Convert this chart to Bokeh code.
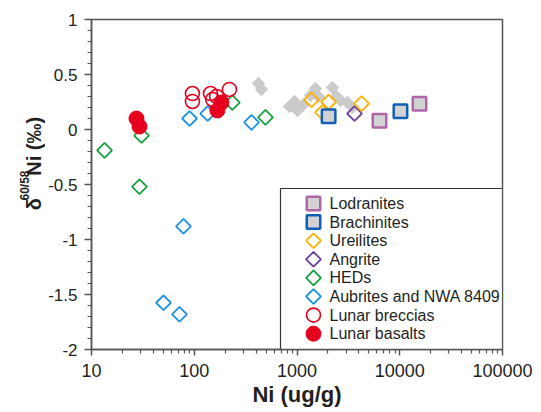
import math
from bokeh.plotting import figure
from bokeh.layouts import row
from bokeh.models import (FixedTicker, CustomJSTickFormatter, Range1d, LinearScale)
from bokeh.embed import file_html
from bokeh.resources import INLINE
from bokeh.core.properties import value

# ---------------- data ----------------
other_ni = [422, 451, 845, 946, 1012, 1157, 1353, 1513, 1619, 2214, 2421, 2649, 3097, 3467]
other_d = [0.418, 0.364, 0.209, 0.255, 0.173, 0.227, 0.309, 0.373, 0.300, 0.382, 0.300, 0.264, 0.245, 0.200]

lod_ni = [6350, 15560]
lod_d = [0.08, 0.235]
bra_ni = [2030, 10160]
bra_d = [0.12, 0.165]
ure_ni = [1384, 2030, 1770, 4250]
ure_d = [0.27, 0.25, 0.155, 0.235]
ang_ni = [3630]
ang_d = [0.145]
hed_ni = [13.4, 30.7, 29.3, 235, 493]
hed_d = [-0.19, -0.055, -0.52, 0.245, 0.11]
aub_ni = [90, 135, 361, 78.5, 50.2, 71.8]
aub_d = [0.10, 0.145, 0.065, -0.88, -1.575, -1.68]
brec_ni = [96, 96, 144, 151, 165, 220]
brec_d = [0.327, 0.255, 0.327, 0.273, 0.30, 0.364]
bas_ni = [27.4, 29.3, 168, 184]
bas_d = [0.10, 0.027, 0.173, 0.245]

x_major = [10, 100, 1000, 10000, 100000]
x_minor = [m * 10 ** e for e in range(1, 5) for m in range(2, 10)]
y_major = [-2, -1.5, -1, -0.5, 0, 0.5, 1]
y_minor = [round(-2 + 0.1 * i, 1) for i in range(31)]

legend_labels = ["Lodranites", "Brachinites", "Ureilites", "Angrite", "HEDs",
                 "Aubrites and NWA 8409", "Lunar breccias", "Lunar basalts"]

x_title = "Ni (ug/g)"
y_title_parts = ["δ", "60/58", "Ni (‰)"]

# ---------------- styles ----------------
FONT = "Liberation Sans"
TXT = "#231f20"
AX = "#555555"
C_LOD = "#b264a8"
C_BRA = "#0f5fb4"
C_URE = "#ffb000"
C_ANG = "#6f3d9e"
C_HED = "#18a040"
C_AUB = "#1e90e0"
C_LUN = "#e6001e"
C_GRAY = "#cbcbcb"
C_FILL = "#d2d2d4"

styles = [
    dict(marker="square", angle=0, size=13.5, fill_color=C_FILL, line_color=C_LOD, line_width=2.5),
    dict(marker="square", angle=0, size=13.5, fill_color=C_FILL, line_color=C_BRA, line_width=2.5),
    dict(marker="square", angle=math.pi / 4, size=10.5, fill_color=None, line_color=C_URE, line_width=1.8),
    dict(marker="square", angle=math.pi / 4, size=10.5, fill_color=None, line_color=C_ANG, line_width=1.8),
    dict(marker="square", angle=math.pi / 4, size=10.5, fill_color=None, line_color=C_HED, line_width=1.8),
    dict(marker="square", angle=math.pi / 4, size=10.5, fill_color=None, line_color=C_AUB, line_width=1.8),
    dict(marker="circle", angle=0, size=14, fill_color=None, line_color=C_LUN, line_width=1.6),
    dict(marker="circle", angle=0, size=15, fill_color=C_LUN, line_color=C_LUN, line_width=1),
]

LAB_W = 45
W, H = 541, 412

# ---------------- main plot ----------------
p = figure(width=W - LAB_W, height=H, x_axis_type="log",
           x_range=Range1d(10, 100000), y_range=Range1d(-2, 1),
           output_backend="svg", toolbar_location=None,
           min_border_left=91 - LAB_W, min_border_right=39, min_border_top=19, min_border_bottom=63)
p.background_fill_color = "white"
p.border_fill_color = "white"
p.outline_line_color = AX
p.outline_line_width = 1.5
p.xgrid.visible = False
p.ygrid.visible = False

fmt = CustomJSTickFormatter(code="return tick.toString();")
p.xaxis.ticker = FixedTicker(ticks=x_major, minor_ticks=x_minor)
p.yaxis.ticker = FixedTicker(ticks=y_major, minor_ticks=y_minor)
p.xaxis.formatter = fmt
p.yaxis.formatter = fmt
for ax in (p.xaxis, p.yaxis):
    ax.axis_line_color = AX
    ax.axis_line_width = 1.5
    ax.major_tick_line_color = AX
    ax.minor_tick_line_color = AX
    ax.major_tick_line_width = 1.5
    ax.minor_tick_line_width = 1.2
    ax.major_tick_in = 0
    ax.minor_tick_in = 0
    ax.major_label_text_font = FONT
    ax.major_label_text_color = TXT
p.xaxis.major_label_text_font_size = "18px"
p.xaxis.major_label_standoff = 8
p.yaxis.major_label_text_font_size = "17px"
p.yaxis.major_label_standoff = 7
p.yaxis.major_tick_out = 7
p.yaxis.minor_tick_out = 4
p.xaxis.major_tick_out = 6
p.xaxis.minor_tick_out = 4
p.xaxis.axis_label = x_title
p.xaxis.axis_label_text_font = FONT
p.xaxis.axis_label_text_font_style = "bold"
p.xaxis.axis_label_text_font_size = "22px"
p.xaxis.axis_label_text_color = TXT
p.xaxis.axis_label_standoff = 2

# ---------------- data marks ----------------
p.scatter(other_ni, other_d, marker="square", angle=math.pi / 4, size=9.5,
          fill_color=C_GRAY, line_color=None)
series = [
    (aub_ni, aub_d, 5), (hed_ni, hed_d, 4), (ang_ni, ang_d, 3), (ure_ni, ure_d, 2),
    (bra_ni, bra_d, 1), (lod_ni, lod_d, 0), (brec_ni, brec_d, 6), (bas_ni, bas_d, 7),
]
for xs, ys, k in series:
    p.scatter(xs, ys, **styles[k])

# ---------------- legend (pixel coordinates inside the frame) ----------------
p.extra_x_ranges = {"px": Range1d(0, 411)}
p.extra_y_ranges = {"px": Range1d(0, 330)}
p.extra_x_scales = {"px": LinearScale()}
p.extra_y_scales = {"px": LinearScale()}
p.quad(left=[189], right=[411], bottom=[0], top=[161], x_range_name="px", y_range_name="px",
       fill_color="white", line_color="#333333", line_width=1.2)
row_top, row_step = 146, 18.6
rows_y = [row_top - i * row_step for i in range(len(legend_labels))]
for i, st in enumerate(styles):
    p.scatter([222], [rows_y[i]], x_range_name="px", y_range_name="px", **st)
p.text(x=[238] * len(legend_labels), y=rows_y, text=legend_labels,
       x_range_name="px", y_range_name="px",
       text_font=value(FONT), text_font_size="16px", text_color=TXT,
       text_baseline="middle", text_align="left")

# ---------------- y axis title: δ^60/58 Ni (‰), in a narrow side panel ----------------
lab = figure(width=LAB_W, height=H, x_range=Range1d(0, LAB_W), y_range=Range1d(0, H),
             output_backend="svg", toolbar_location=None,
             x_axis_location=None, y_axis_location=None,
             min_border_left=0, min_border_right=0, min_border_top=0, min_border_bottom=0)
lab.outline_line_color = None
lab.xgrid.visible = False
lab.ygrid.visible = False
lab.background_fill_color = "white"
lab.border_fill_color = "white"
base_x, start_y = 33, 174
lab.text(x=[base_x], y=[start_y], text=[y_title_parts[0]], angle=math.pi / 2,
         text_font=value(FONT), text_font_style="bold", text_font_size="20px",
         text_color=TXT, text_baseline="alphabetic", text_align="left")
lab.text(x=[base_x - 9], y=[start_y + 12], text=[y_title_parts[1]], angle=math.pi / 2,
         text_font=value(FONT), text_font_style="bold", text_font_size="12px",
         text_color=TXT, text_baseline="alphabetic", text_align="left")
lab.text(x=[base_x], y=[start_y + 43], text=[y_title_parts[2]], angle=math.pi / 2,
         text_font=value(FONT), text_font_style="bold", text_font_size="20px",
         text_color=TXT, text_baseline="alphabetic", text_align="left")

layout = row(lab, p, spacing=0)
open("out.html", "w").write(file_html(layout, INLINE))
